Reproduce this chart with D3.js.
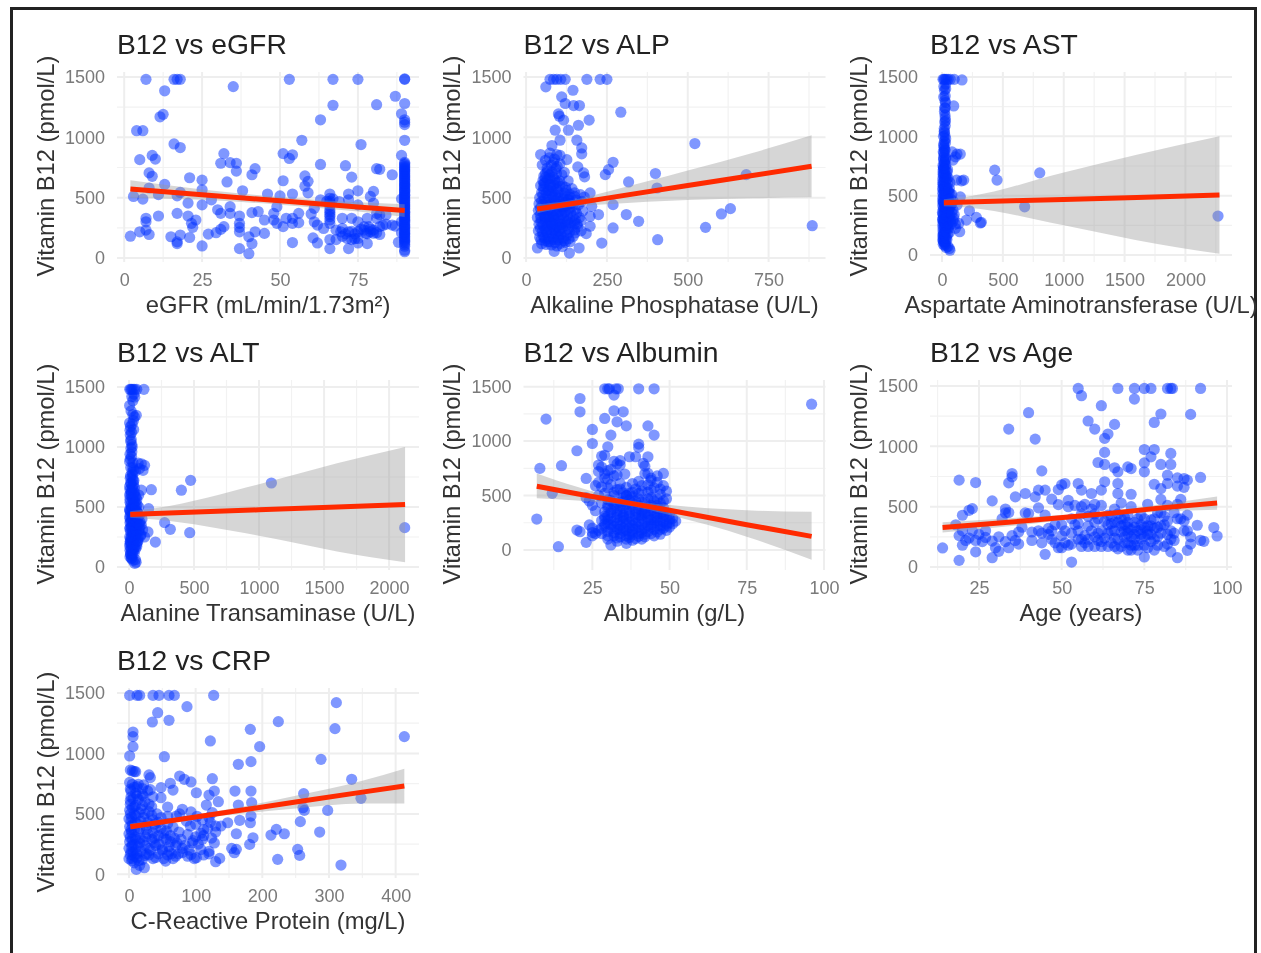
<!DOCTYPE html>
<html>
<head>
<meta charset="utf-8">
<script src="https://cdn.jsdelivr.net/npm/d3@7"></script>
<style>
  html, body { margin: 0; padding: 0; background: #fff; overflow: hidden; }
  #chart svg { display: block; filter: blur(0.7px); }
</style>
</head>
<body>
<div id="chart"></div>
<script>
// values, one [x, b12] list per panel
var egfrPoints = [[7,1480],[16,1480],[17,1480],[18,1480],[53,1480],[67,1480],[75,1480],[90,1480],[90,1484],[35,1420],[13,1385],[87,1340],[90,1280],[81,1270],[67,1265],[12.5,1190],[11.5,1170],[63,1145],[89,1195],[90,1145],[90,1105],[90,1125],[4,1055],[6,1055],[90,975],[57,975],[16,945],[18,915],[76,940],[32,865],[51,865],[54,855],[53,825],[5,815],[9,850],[10,820],[89,850],[34,790],[36,785],[31,785],[8,705],[9,677],[36,720],[41,690],[42,740],[63,775],[71,765],[73,670],[81,740],[82,735],[86,690],[58,680],[21,665],[25,645],[33,630],[51,640],[59,635],[58,595],[59,540],[13,610],[8,580],[38,557],[18,543],[25,565],[46,530],[50,515],[54,530],[66,530],[75,557],[80,552],[72,530],[79,510],[63,482],[11,525],[3,510],[6,488],[17,515],[28,482],[20.5,455],[25,440],[34,425],[49,425],[61,412],[66,455],[66,495],[69,468],[72,482],[75,440],[80,455],[30,400],[31,370],[17,370],[41,376],[43,385],[48,370],[34,370],[37,348],[11,348],[20.5,348],[56,370],[60,365],[84,357],[81,370],[82,357],[7,329],[7,300],[23,315],[21.6,287],[22,254],[37,287],[37,254],[37,217],[45,315],[48,315],[49,287],[51,260],[52,329],[54,329],[54,287],[56,293],[61,300],[62,273],[66,343],[66,315],[66,287],[66,400],[66,430],[70,329],[73,329],[75,300],[78,329],[81,329],[82,260],[86,273],[87,265],[32,260],[31,237],[29.5,210],[5,217],[7,231],[8,195],[64,245],[68,231],[70,245],[69.5,217],[72,217],[75,217],[77,231],[77.5,204],[78.5,260],[79,217],[80,231],[2,181],[15,176],[18,190],[17,134],[17,120],[21,170],[27,198],[25,100],[37,78],[40,36],[41,120],[40,176],[42,217],[45,204],[54,128],[60.6,167],[62,125],[66,78],[66,153],[68,153],[72,78],[71.6,162],[73,153],[75,162],[75,125],[78,120],[82,195],[90,52],[90,98],[90,126],[90,148],[90,168],[90,192],[90,208],[90,228],[90,252],[90,268],[90,293],[90,312],[90,331],[90,349],[90,372],[90,388],[90,412],[90,431],[90,448],[90,473],[90,489],[90,513],[90,527],[90,552],[90,568],[90,593],[90,608],[90,632],[90,651],[90,672],[90,688],[90,712],[90,729],[90,748],[90,771],[90,792],[89,490],[88,130],[89,300],[89,210],[90,65],[90,112],[90,138],[90,158],[90,180],[90,200],[90,218],[90,240],[90,260],[90,280],[90,302],[90,322],[90,340],[90,360],[90,380],[90,400],[90,422],[90,440],[90,460],[90,480],[90,500],[90,520],[90,540],[90,560],[90,580],[90,600],[90,620],[90,640],[90,662],[90,680],[90,700],[90,720],[90,738],[90,760],[90,782],[66,470],[66,380],[66,360],[67,490],[65,470],[74,200],[76,240],[77,260],[78,200],[79,240],[80,205],[81,210],[83,270],[84,280],[70,180],[71,200],[73,220],[74,160]];

var alpPoints = [[74,1480],[85,1480],[95,1480],[107,1480],[121,1480],[188,1480],[229,1480],[250,1480],[61,1418],[145,1390],[110,1335],[121,1280],[147,1263],[165,1263],[293,1208],[100,1194],[103,1175],[116,1142],[195,1142],[162,1100],[90,1059],[131,1059],[105,976],[157,976],[522,948],[80,932],[172,912],[172,863],[45,857],[95,857],[126,815],[74,870],[269,793],[255,732],[245,691],[160,755],[178,705],[181,672],[400,700],[681,691],[317,630],[405,580],[269,442],[310,360],[348,304],[604,365],[632,409],[555,254],[885,268],[269,249],[407,152],[234,124],[164,83],[134,41],[87,55],[35,83],[198,539],[224,360],[198,346],[203,428],[198,263],[186,202],[60,810],[85,790],[105,780],[65,745],[92,740],[118,710],[60,700],[72,690],[84,672],[130,640],[52,640],[66,650],[97,628],[112,600],[142,575],[55,590],[78,585],[95,570],[124,560],[150,540],[168,525],[180,505],[48,540],[62,535],[80,530],[100,520],[118,515],[136,505],[155,480],[172,470],[42,500],[56,490],[70,485],[88,480],[104,470],[122,462],[140,452],[162,440],[40,450],[52,445],[66,438],[82,430],[98,425],[116,418],[134,410],[152,402],[175,390],[38,395],[50,388],[64,380],[78,375],[94,368],[110,360],[128,352],[146,345],[165,335],[35,335],[46,330],[58,325],[72,318],[88,312],[104,305],[120,298],[138,290],[158,282],[40,280],[52,272],[66,268],[80,260],[95,254],[112,248],[130,240],[150,232],[170,225],[38,225],[50,218],[64,212],[78,205],[92,200],[108,195],[126,188],[146,180],[42,172],[56,168],[70,160],[86,155],[100,150],[118,142],[136,135],[48,118],[62,112],[78,108],[95,100],[112,95],[60,400],[75,300],[90,240],[108,420],[70,560],[55,620],[90,620],[110,280],[75,445],[130,480],[85,345],[100,185],[68,135],[120,385],[46,150],[58,142],[74,135],[90,128],[106,122],[122,130],[52,190],[68,182],[84,176],[100,172],[116,165],[132,160],[44,250],[58,244],[72,238],[86,232],[102,226],[118,220],[134,214],[152,208],[46,302],[60,296],[74,290],[90,284],[106,278],[124,272],[142,266],[160,258],[44,358],[56,352],[70,346],[86,340],[100,334],[116,328],[134,322],[152,316],[170,310],[44,412],[58,406],[72,400],[88,394],[104,388],[120,382],[138,376],[156,370],[48,468],[62,462],[78,456],[94,450],[110,444],[126,438],[144,432],[52,522],[68,514],[84,506],[100,498],[116,492],[132,486],[150,510],[54,570],[68,562],[84,552],[100,546],[118,538],[134,530],[58,620],[72,612],[86,604],[104,596],[122,586],[60,668],[74,660],[88,650],[104,640],[66,720],[80,712],[94,700],[110,690],[78,770],[96,760],[72,830],[88,820],[105,850],[50,770],[55,680],[45,600],[62,230],[80,280],[96,360],[112,430],[128,300],[90,520],[75,600],[60,340],[105,250],[135,450],[150,290]];

var astPoints = [[8,1480],[16,1480],[24,1480],[36,1480],[50,1480],[68,1480],[100,1480],[164,1475],[20,1388],[14,1332],[96,1256],[28,1285],[26,1240],[24,1180],[22,1120],[18,1065],[20,1030],[30,980],[20,960],[15,920],[22,890],[82,869],[123,850],[150,850],[110,827],[90,800],[15,860],[12,820],[28,800],[18,770],[12,740],[24,710],[10,680],[20,650],[30,620],[12,595],[40,570],[22,545],[65,520],[14,510],[30,490],[50,470],[10,450],[35,430],[70,410],[15,395],[25,375],[45,355],[10,340],[32,320],[55,300],[14,285],[20,265],[42,245],[8,230],[28,210],[60,190],[12,170],[25,150],[40,130],[15,110],[28,90],[48,72],[60,55],[65,40],[120,631],[178,631],[160,625],[433,715],[452,631],[803,692],[679,406],[2268,328],[225,373],[282,317],[323,275],[315,270],[200,294],[145,196],[137,266],[110,225],[96,310],[150,490],[123,420],[90,455],[80,510],[100,340],[75,260],[5,560],[35,670],[8,440],[18,530],[38,640],[4,360],[6,480],[20,420],[30,350],[6,300],[45,395],[18,250],[8,130],[20,190],[36,280],[6,610],[24,580],[10,720],[30,760],[16,905],[26,1090],[28,1130],[20,1210],[24,1300],[30,1400],[50,540],[60,450],[55,380],[65,340],[70,290],[80,430],[52,220],[90,380],[10,90],[22,80],[34,62],[18,105],[8,120],[30,118],[12,140],[35,145],[6,160],[20,165],[45,172],[10,182],[32,195],[8,205],[24,222],[50,235],[6,255],[34,255],[12,275],[46,270],[5,295],[24,305],[60,320],[10,315],[38,330],[6,345],[22,362],[48,370],[10,385],[60,392],[30,400],[6,415],[18,435],[50,440],[8,460],[28,470],[40,500],[14,490],[6,520],[26,515],[55,525],[10,550],[34,560],[18,575],[8,590],[44,600],[16,625],[6,640],[28,655],[10,665],[20,690],[42,700],[8,700],[14,730],[28,735],[8,755],[20,785],[12,800],[30,815],[18,835],[10,870],[24,880],[14,935],[28,945],[12,1000],[24,1005],[18,1040],[26,1155],[22,1240],[26,1340],[15,1420],[30,1440],[60,560],[70,470],[80,350],[90,285],[110,260],[65,610],[45,720],[50,650]];

var altPoints = [[6,1480],[14,1480],[22,1480],[32,1480],[44,1480],[60,1480],[115,1480],[44,1415],[30,1385],[5,1345],[56,1264],[30,1270],[42,1250],[5,1200],[12,1170],[36,1145],[10,1100],[18,1060],[15,990],[22,960],[8,940],[5,880],[95,860],[120,847],[108,805],[70,865],[80,820],[50,800],[28,770],[10,740],[38,720],[15,695],[5,670],[172,644],[95,640],[151,486],[403,640],[474,722],[1095,700],[2120,328],[274,370],[318,314],[467,286],[203,208],[146,292],[120,250],[25,650],[42,620],[15,600],[55,580],[30,560],[8,540],[62,520],[20,500],[44,480],[12,465],[70,450],[26,435],[6,420],[50,405],[18,390],[85,375],[32,360],[60,345],[10,330],[42,315],[75,300],[22,285],[92,270],[50,255],[14,240],[35,225],[65,210],[8,195],[28,180],[45,165],[16,150],[32,130],[12,110],[24,95],[20,75],[50,60],[55,40],[45,30],[80,430],[95,350],[105,310],[70,240],[60,170],[100,400],[75,500],[5,600],[35,690],[40,560],[60,460],[20,330],[30,270],[12,210],[5,480],[35,415],[48,540],[8,370],[18,630],[25,740],[30,830],[22,1020],[8,85],[20,70],[30,55],[14,105],[26,120],[40,115],[8,140],[22,145],[36,160],[50,150],[6,175],[18,190],[40,195],[60,190],[10,215],[26,230],[48,225],[70,220],[6,250],[20,255],[40,270],[60,280],[12,295],[30,300],[52,310],[80,320],[6,320],[22,345],[44,350],[72,355],[14,380],[34,385],[56,375],[8,405],[26,410],[48,425],[70,410],[12,445],[34,450],[58,470],[6,470],[22,490],[42,505],[14,520],[34,530],[54,500],[8,565],[26,575],[46,590],[16,615],[36,610],[8,645],[26,670],[42,660],[14,700],[32,720],[12,760],[24,790],[38,810],[14,830],[30,870],[10,900],[20,920],[25,1000],[12,1050],[8,1140],[20,1120],[24,1190],[34,1220],[16,1300],[22,1420],[38,1440],[60,560],[75,600],[85,350],[90,260]];

var albuminPoints = [[29,1480],[30,1480],[30.5,1480],[32.6,1480],[33.4,1480],[40,1480],[45,1480],[32,1422],[21,1391],[21,1269],[32,1278],[35,1269],[10,1202],[29,1208],[33,1177],[36,1140],[43,1140],[25,1107],[31,1055],[45,1055],[25,978],[40,972],[40,942],[30,948],[20,911],[37,856],[39,856],[43,856],[28,862],[29,870],[34,820],[32,815],[27,780],[41.5,795],[42,770],[8,749],[15,774],[48,703],[23,657],[35.5,697],[33,688],[43,703],[44,660],[12,520],[7,284],[14,30],[23,70],[20,183],[21,168],[31,46],[36,61],[96,1339],[27,720],[29,700],[31,740],[32,680],[34,780],[30,650],[27,620],[26,590],[30,570],[33,555],[36,575],[38,610],[40,630],[43,600],[46,620],[48,590],[49,540],[47,510],[44,550],[41,540],[38,530],[35,525],[23,480],[24,450],[25,410],[26,360],[25,200],[25,160],[28,150],[30,130],[33,110],[36,100],[39,105],[42,120],[45,130],[47,145],[49,180],[50,210],[52,265],[51,290],[50,330],[48,350],[46,380],[44,410],[42,440],[40,470],[38,490],[35,480],[32,500],[30,460],[28,430],[30,390],[32,420],[34,440],[36,420],[38,400],[40,410],[42,385],[44,360],[46,330],[48,300],[47,260],[45,300],[43,330],[41,350],[39,360],[37,370],[35,380],[33,360],[31,340],[29,310],[31,290],[33,300],[35,320],[37,310],[39,300],[41,290],[43,270],[45,250],[47,220],[45,190],[43,220],[41,235],[39,245],[37,255],[35,265],[33,245],[31,230],[29,240],[31,195],[33,190],[35,200],[37,205],[39,195],[41,185],[43,170],[40,150],[37,145],[34,150],[32,160],[36,130],[38,165],[34,225],[30,275],[34,345],[36,280],[38,225],[40,320],[42,330],[44,210],[46,270],[49,240],[48,450],[46,470],[44,480],[36,500],[34,610],[29,520],[27,500],[30,170],[32,130],[34,120],[35,175],[37,115],[38,140],[40,125],[41,160],[42,145],[44,150],[46,165],[47,190],[48,200],[49,220],[28,200],[29,220],[30,240],[32,215],[34,190],[36,180],[38,195],[40,210],[42,200],[44,235],[46,225],[48,260],[50,250],[51,240],[28,270],[29,290],[30,310],[32,265],[34,280],[36,240],[38,275],[40,260],[42,255],[44,280],[46,295],[48,320],[50,285],[29,350],[31,370],[33,330],[35,300],[37,340],[39,330],[41,320],[43,300],[45,345],[47,335],[49,310],[30,410],[32,385],[34,400],[36,360],[38,430],[40,380],[42,350],[44,390],[46,410],[48,390],[31,450],[33,430],[35,445],[37,460],[39,450],[41,440],[43,470],[45,450],[47,430],[49,470],[32,530],[34,560],[37,520],[39,560],[41,590],[43,530],[45,570],[47,560],[36,500],[40,520],[28,580],[29,660],[31,600],[30,730],[28,760],[33,790],[46,680],[44,640],[42,700],[24,230],[26,150],[27,180],[25,130],[30,100],[33,80],[38,90],[41,100]];

var agePoints = [[55,1480],[67,1480],[72,1480],[75,1480],[77,1480],[82,1480],[83,1480],[83.5,1480],[92,1480],[56,1420],[72,1392],[62,1337],[40,1279],[80,1268],[89,1265],[34,1143],[58,1210],[60,1143],[66,1182],[78,1198],[64,1102],[63,1066],[42,1060],[63,950],[75,974],[78,974],[77,913],[83,941],[75,863],[61,866],[63,850],[80,850],[83,850],[66,822],[70,830],[71,816],[67,789],[75,789],[44,797],[35,775],[35,747],[34,697],[19,720],[24,700],[92,742],[82,761],[85,739],[87,733],[88,720],[63,706],[55,692],[67,692],[78,686],[82,692],[80,650],[85,670],[87,660],[51,692],[50,680],[56,637],[43,637],[45,637],[49,642],[39,609],[42,581],[36,581],[62,637],[59,609],[67,609],[71,603],[29,548],[47,562],[49,517],[52,553],[43,490],[40,443],[39,448],[33,448],[34,451],[22,470],[23,484],[20,429],[14,158],[19,55],[24,125],[29,77],[45,105],[53,41],[85,77],[96,327],[97,257],[92,221],[93,213],[91,346],[88,138],[75,83],[83,125],[18,350],[20,300],[19,260],[21,220],[20,180],[23,300],[25,270],[27,245],[29,215],[30,160],[31,130],[33,210],[34,160],[36,220],[37,190],[37,290],[41,220],[41,290],[43,300],[44,200],[46,320],[47,230],[49,160],[50,350],[51,200],[53,280],[54,510],[55,360],[56,440],[56,230],[57,520],[58,170],[58,340],[60,170],[60,440],[61,280],[62,510],[62,210],[63,380],[64,170],[65,300],[66,240],[66,480],[67,150],[67,370],[68,530],[68,290],[69,200],[69,410],[70,140],[70,330],[71,250],[71,500],[72,180],[72,370],[73,300],[73,140],[74,430],[74,230],[75,330],[75,180],[76,520],[76,270],[77,390],[77,210],[78,140],[78,320],[79,450],[79,250],[80,560],[80,340],[81,170],[81,420],[82,270],[82,510],[83,230],[84,450],[84,280],[86,400],[86,560],[87,380],[88,430],[88,300],[89,250],[89,190],[65,420],[60,370],[57,260],[53,400],[52,180],[48,350],[46,270],[70,280],[72,270],[74,310],[68,340],[76,340],[64,350],[71,180],[69,300],[66,170],[55,300],[57,200],[58,420],[59,300],[60,250],[61,400],[62,170],[62,300],[63,240],[64,430],[65,200],[65,360],[66,300],[67,230],[67,440],[68,170],[68,400],[69,250],[69,350],[70,200],[70,430],[70,370],[71,310],[71,140],[72,230],[72,330],[73,180],[73,400],[74,270],[74,350],[75,250],[75,400],[76,160],[76,300],[77,340],[77,270],[78,230],[78,400],[79,180],[79,330],[80,280],[80,450],[81,350],[82,190],[82,380],[83,300],[84,220],[85,400],[85,520],[87,300],[45,430],[47,300],[50,260],[52,500],[54,350],[56,500],[59,480],[60,520],[38,330],[35,260],[32,400],[27,300],[24,220],[22,240],[26,210],[31,250],[33,480],[44,280],[48,200],[50,160],[51,300],[53,190],[55,230],[56,170],[58,230],[61,220],[64,280],[66,370]];

var crpPoints = [[1,1480],[12,1480],[16,1480],[36,1480],[45,1480],[60,1480],[68,1480],[127,1480],[311,1420],[43,1337],[87,1387],[35,1260],[60,1274],[224,1263],[182,1199],[309,1205],[6,1177],[6,1139],[122,1103],[413,1139],[196,1056],[6,1056],[1,979],[53,973],[288,951],[164,910],[183,932],[2,863],[10,849],[30,822],[76,813],[83,786],[125,791],[93,764],[334,786],[48,717],[62,753],[66,697],[101,675],[128,689],[120,656],[159,689],[183,689],[21,648],[36,642],[48,634],[134,601],[262,667],[348,629],[58,557],[116,573],[164,573],[184,593],[71,482],[80,538],[93,516],[125,510],[261,551],[263,529],[298,529],[257,436],[183,482],[148,427],[166,447],[182,427],[161,336],[221,372],[213,325],[233,336],[286,350],[186,303],[181,248],[154,215],[161,207],[158,179],[253,207],[256,157],[223,124],[318,77],[136,132],[130,105],[101,138],[93,165],[23,55],[11,41],[5,745],[12,725],[20,710],[3,690],[10,670],[3,640],[14,620],[24,600],[2,580],[8,560],[18,540],[30,520],[2,500],[10,485],[22,470],[36,450],[3,440],[12,420],[25,400],[40,385],[3,370],[14,350],[28,335],[44,320],[2,305],[10,290],[22,275],[38,260],[5,245],[14,230],[30,215],[50,200],[3,185],[12,170],[24,155],[40,140],[5,130],[15,115],[8,95],[16,75],[58,420],[66,390],[75,350],[88,330],[100,310],[110,290],[62,270],[70,240],[80,215],[95,260],[108,205],[120,190],[58,160],[66,130],[55,110],[86,440],[100,415],[112,370],[130,350],[138,400],[122,430],[128,260],[48,470],[56,360],[45,250],[60,190],[34,560],[42,500],[52,300],[92,400],[108,340],[74,170],[0,130],[4,115],[8,150],[12,135],[20,120],[2,165],[6,185],[10,200],[18,190],[26,170],[0,215],[4,230],[8,250],[16,260],[24,240],[32,200],[1,270],[5,290],[9,310],[17,300],[25,310],[34,290],[0,335],[4,350],[8,370],[16,380],[26,370],[36,345],[1,395],[5,410],[9,430],[18,440],[28,430],[38,415],[0,460],[4,475],[8,500],[15,510],[24,500],[34,490],[1,530],[5,550],[10,570],[20,570],[30,580],[2,610],[6,625],[12,650],[20,660],[28,690],[2,705],[8,720],[14,745],[22,740],[32,700],[1,760],[48,380],[52,340],[56,290],[62,320],[68,300],[72,260],[78,290],[84,240],[90,200],[96,280],[104,250],[112,320],[118,380],[124,300],[130,400],[44,430],[50,210],[60,230],[64,170],[70,150],[80,180],[88,150],[98,130],[112,160],[120,170],[30,160],[36,130],[44,170],[52,130],[40,240],[38,300],[58,480],[76,500],[110,450],[102,480],[120,470],[5,855],[8,850],[32,800]];

var egfrFit = [[2,500,571,645],[25,482,525,568],[50,442,474,506],[75,385,423,461],[90,340,393,446]];
var alpFit = [[34,370,406,445],[130,420,446,475],[250,445,496,550],[500,480,600,725],[700,495,683,870],[883,503,760,1017]];
var astFit = [[15,410,440,470],[205,400,446,491],[1000,250,468,695],[1600,125,485,845],[2280,10,505,1000]];
var altFit = [[10,410,437,465],[200,395,445,490],[1000,260,476,690],[1600,130,500,865],[2123,40,520,1000]];
var albuminFit = [[7,475,585,703],[20,455,517,580],[37,405,430,455],[50,320,364,413],[75,122,232,365],[96,-90,125,350]];
var ageFit = [[14,285,327,370],[40,355,385,415],[65,430,445,465],[80,460,490,520],[97,475,531,585]];
var crpFit = [[2,370,394,420],[60,425,442,460],[150,490,516,540],[250,545,598,650],[350,585,680,775],[413,585,731,874]];

var titles = ["B12 vs eGFR", "B12 vs ALP", "B12 vs AST", "B12 vs ALT", "B12 vs Albumin", "B12 vs Age", "B12 vs CRP"];
var xLabels = ["eGFR (mL/min/1.73m²)", "Alkaline Phosphatase (U/L)", "Aspartate Aminotransferase (U/L)", "Alanine Transaminase (U/L)", "Albumin (g/L)", "Age (years)", "C-Reactive Protein (mg/L)"];
var xTicks = [[0, 25, 50, 75], [0, 250, 500, 750], [0, 500, 1000, 1500, 2000], [0, 500, 1000, 1500, 2000], [25, 50, 75, 100], [25, 50, 75, 100], [0, 100, 200, 300, 400]];
var xMinor = [[12.5, 37.5, 62.5, 87.5], [125, 375, 625, 875], [250, 750, 1250, 1750, 2250], [250, 750, 1250, 1750], [12.5, 37.5, 62.5, 87.5], [12.5, 37.5, 62.5, 87.5], [50, 150, 250, 350]];
var xDomains = [[-2.3, 94.6], [-8, 926], [-99, 2383], [-92, 2230], [2.7, 100.5], [10.2, 101.5], [-18, 435]];
var yDomains = [[-33, 1541], [-33, 1541], [-59, 1542], [-25, 1558], [-184, 1561], [-25, 1550], [-30, 1541]];
var yTicks = [0, 500, 1000, 1500];
var yMinor = [250, 750, 1250];
var yLabel = "Vitamin B12 (pmol/L)";
var allPoints = [egfrPoints, alpPoints, astPoints, altPoints, albuminPoints, agePoints, crpPoints];
var allFits = [egfrFit, alpFit, astFit, altFit, albuminFit, ageFit, crpFit];

var width = 1261;
var height = 953;
var panelWidth = 302;
var panelHeight = 190;
var columnLeft = [117, 523.5, 930];
var rowTop = [72, 380, 688];
var font = "'Liberation Sans', Arial, sans-serif";

var svg = d3.select("#chart")
    .append("svg")
    .attr("width", width)
    .attr("height", height);

svg.append("rect")
    .attr("width", width)
    .attr("height", height)
    .attr("fill", "#fff");

// the black frame of the screenshot, runs off the bottom
svg.append("path")
    .attr("d", "M11.5," + (height + 10) + "V8.5H1255.5V" + (height + 10))
    .attr("fill", "none")
    .attr("stroke", "#222")
    .attr("stroke-width", 3);

titles.forEach(function(title, i) {
  var left = columnLeft[i % 3];
  var top = rowTop[Math.floor(i / 3)];

  var x_scale = d3.scaleLinear()
      .domain(xDomains[i])
      .range([0, panelWidth]);
  var y_scale = d3.scaleLinear()
      .domain(yDomains[i])
      .range([panelHeight, 0]);

  var g = svg.append("g")
      .attr("transform", "translate(" + left + "," + top + ")");

  // minor grid first, then major
  g.selectAll(".xminor").data(xMinor[i]).enter().append("line")
      .attr("x1", function(d) { return x_scale(d); })
      .attr("x2", function(d) { return x_scale(d); })
      .attr("y2", panelHeight)
      .attr("stroke", "#f2f2f2")
      .attr("stroke-width", 1.2);
  g.selectAll(".yminor").data(yMinor).enter().append("line")
      .attr("y1", function(d) { return y_scale(d); })
      .attr("y2", function(d) { return y_scale(d); })
      .attr("x2", panelWidth)
      .attr("stroke", "#f2f2f2")
      .attr("stroke-width", 1.2);
  g.selectAll(".xmajor").data(xTicks[i]).enter().append("line")
      .attr("x1", function(d) { return x_scale(d); })
      .attr("x2", function(d) { return x_scale(d); })
      .attr("y2", panelHeight)
      .attr("stroke", "#eeeeee")
      .attr("stroke-width", 2);
  g.selectAll(".ymajor").data(yTicks).enter().append("line")
      .attr("y1", function(d) { return y_scale(d); })
      .attr("y2", function(d) { return y_scale(d); })
      .attr("x2", panelWidth)
      .attr("stroke", "#eeeeee")
      .attr("stroke-width", 2);

  g.selectAll(".dot")
      .data(allPoints[i])
      .enter()
      .append("circle")
      .attr("class", "dot")
      .attr("cx", function(d) { return x_scale(d[0]); })
      .attr("cy", function(d) { return y_scale(d[1]); })
      .attr("r", 5.6)
      .attr("fill", "#0030ff")
      .attr("fill-opacity", 0.5);

  var band = d3.area()
      .x(function(d) { return x_scale(d[0]); })
      .y0(function(d) { return y_scale(d[1]); })
      .y1(function(d) { return y_scale(d[3]); })
      .curve(d3.curveMonotoneX);
  g.append("path")
      .attr("d", band(allFits[i]))
      .attr("fill", "#999")
      .attr("fill-opacity", 0.4);

  var fit = d3.line()
      .x(function(d) { return x_scale(d[0]); })
      .y(function(d) { return y_scale(d[2]); });
  g.append("path")
      .attr("d", fit(allFits[i]))
      .attr("fill", "none")
      .attr("stroke", "#ff2a00")
      .attr("stroke-width", 5);

  var x_axis = d3.axisBottom(x_scale)
      .tickValues(xTicks[i])
      .tickFormat(d3.format("d"))
      .tickSize(0)
      .tickPadding(11);
  var y_axis = d3.axisLeft(y_scale)
      .tickValues(yTicks)
      .tickFormat(d3.format("d"))
      .tickSize(0)
      .tickPadding(12);

  var xg = g.append("g")
      .attr("transform", "translate(0," + panelHeight + ")")
      .call(x_axis);
  var yg = g.append("g").call(y_axis);
  xg.select(".domain").remove();
  yg.select(".domain").remove();
  g.selectAll(".tick text")
      .attr("font-family", font)
      .attr("font-size", 18)
      .attr("fill", "#7a7a7a");

  g.append("text")
      .attr("x", 0)
      .attr("y", -18)
      .attr("font-family", font)
      .attr("font-size", 28.3)
      .attr("fill", "#222")
      .text(title);

  g.append("text")
      .attr("x", panelWidth / 2)
      .attr("y", panelHeight + 50.5)
      .attr("text-anchor", "middle")
      .attr("font-family", font)
      .attr("font-size", 23.8)
      .attr("fill", "#333")
      .text(xLabels[i]);

  g.append("text")
      .attr("transform", "translate(-63.5," + (panelHeight / 2 - 1) + ") rotate(-90)")
      .attr("text-anchor", "middle")
      .attr("font-family", font)
      .attr("font-size", 23.7)
      .attr("fill", "#333")
      .text(yLabel);
});
</script>
</body>
</html>
